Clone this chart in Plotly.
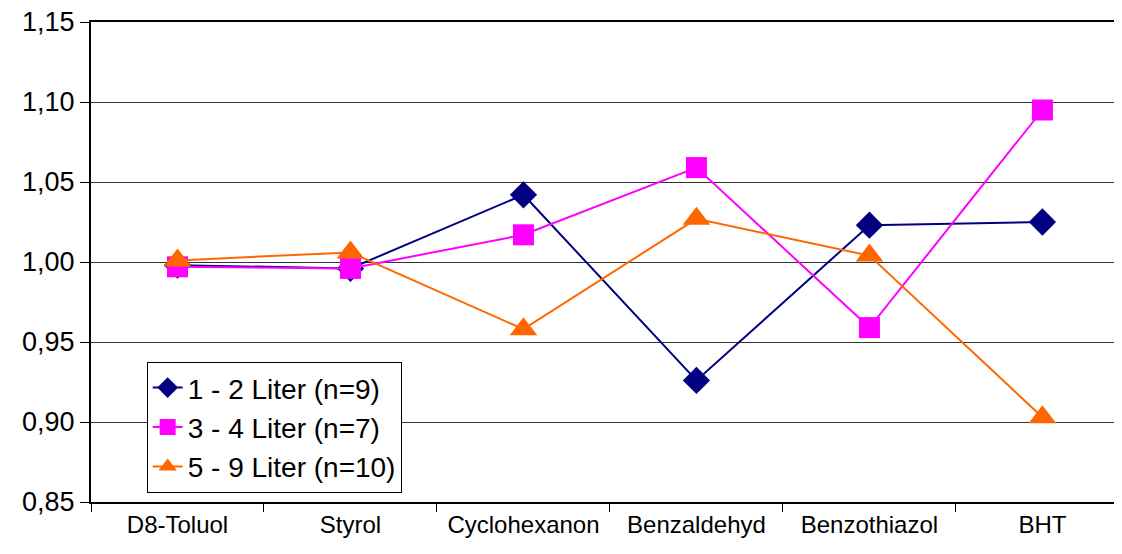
import plotly.graph_objects as go

categories = ["D8-Toluol", "Styrol", "Cyclohexanon", "Benzaldehyd", "Benzothiazol", "BHT"]
s1_name = "1 - 2 Liter (n=9)"
s1 = [0.998, 0.996, 1.042, 0.926, 1.023, 1.025]
s2_name = "3 - 4 Liter (n=7)"
s2 = [0.997, 0.996, 1.017, 1.059, 0.959, 1.095]
s3_name = "5 - 9 Liter (n=10)"
s3 = [1.001, 1.006, 0.958, 1.027, 1.004, 0.903]
y_ticks = [0.85, 0.90, 0.95, 1.00, 1.05, 1.10, 1.15]

FONT = "Liberation Sans, Arial, sans-serif"

fig = go.Figure()
fig.add_trace(go.Scatter(x=categories, y=s1, name=s1_name, mode="lines+markers",
                         line=dict(color="#000080", width=2),
                         marker=dict(symbol="diamond", size=21, color="#000080")))
fig.add_trace(go.Scatter(x=categories, y=s2, name=s2_name, mode="lines+markers",
                         line=dict(color="#FF00FF", width=2),
                         marker=dict(symbol="square", size=21, color="#FF00FF")))
fig.add_trace(go.Scatter(x=categories, y=s3, name=s3_name, mode="lines+markers",
                         line=dict(color="#FF6600", width=2),
                         marker=dict(symbol="triangle-up", size=24, color="#FF6600")))

fig.update_layout(
    width=1114, height=546,
    margin=dict(l=83, r=0, t=14, b=52),
    paper_bgcolor="white", plot_bgcolor="white",
    separators=", ",
    font=dict(family=FONT, color="black"),
    showlegend=True,
    legend=dict(x=0.054, y=0.019, xanchor="left", yanchor="bottom",
                bgcolor="white", bordercolor="black", borderwidth=1,
                font=dict(size=28, family=FONT), tracegroupgap=0),
    xaxis=dict(type="category", range=[-0.5, 5.46], showgrid=False, automargin=False,
               showline=True, linecolor="black", linewidth=2, mirror=True,
               ticks="outside", tickson="boundaries", ticklen=8, tickcolor="black",
               tickfont=dict(size=24, family=FONT), zeroline=False),
    yaxis=dict(range=[0.85, 1.15], tickvals=y_ticks, tickformat=".2f", automargin=False,
               ticklabeloverflow="allow",
               showgrid=True, gridcolor="#333333", gridwidth=1,
               showline=True, linecolor="black", linewidth=2, mirror=True,
               ticks="outside", ticklen=9, tickcolor="black",
               tickfont=dict(size=27, family=FONT), zeroline=False),
)

fig.write_html("out.html")
